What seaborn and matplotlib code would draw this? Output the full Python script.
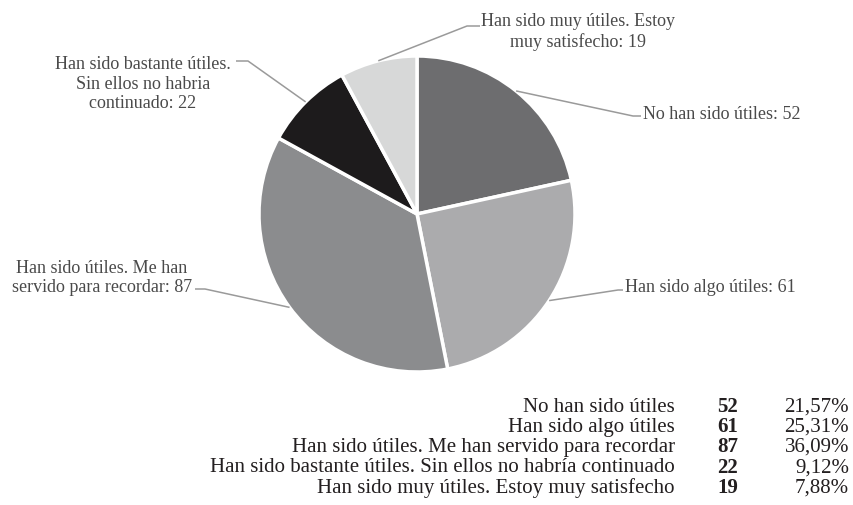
import numpy as np
import matplotlib
matplotlib.use("Agg")
import matplotlib.pyplot as plt
import seaborn as sns

# data
categorias = ["No han sido útiles", "Han sido algo útiles",
              "Han sido útiles. Me han servido para recordar",
              "Han sido bastante útiles. Sin ellos no habría continuado",
              "Han sido muy útiles. Estoy muy satisfecho"]
valores = [52, 61, 87, 22, 19]
porcentajes = ["21,57%", "25,31%", "36,09%", "9,12%", "7,88%"]
etiquetas = ["No han sido útiles: 52", "Han sido algo útiles: 61",
             "Han sido útiles. Me han\nservido para recordar: 87",
             "Han sido bastante útiles.\nSin ellos no habria\ncontinuado: 22",
             "Han sido muy útiles. Estoy\nmuy satisfecho: 19"]
colores = ["#6d6d6f", "#ababad", "#8b8c8e", "#1d1b1c", "#d7d8d8"]

sns.set_style("white")
plt.rcParams["font.family"] = ["Liberation Serif", "DejaVu Serif"]

W, H = 854, 506
fig = plt.figure(figsize=(W / 100, H / 100), dpi=100)
ax = fig.add_axes([0, 0, 1, 1])

def Y(y):
    return H - y

cx, cy, r = 417, 215, 158
wedges, _ = ax.pie(valores, colors=colores, startangle=90, counterclock=False,
                   center=(cx, Y(cy)), radius=r, frame=True,
                   wedgeprops=dict(edgecolor="white", linewidth=2.5))
ax.set_xlim(0, W)
ax.set_ylim(0, H)
ax.set_axis_off()

# label placement: (elbow x, elbow y, line end x, text x, text y, ha)
lugar = [
    (633, 117, 641, 643, 114, "left"),
    (618, 291, 623, 625, 288, "left"),
    (205, 290, 195, 102, 278, "center"),
    (248, 62, 236, 143, 84, "center"),
    (467, 27, 480, 578, 32, "center"),
]
gris_txt = "#4a4a4a"
for w, (ex, ey, lx, tx, ty, ha) in zip(wedges, lugar):
    ang = np.deg2rad((w.theta1 + w.theta2) / 2)
    sx = cx + r * np.cos(ang)
    sy = Y(cy) + r * np.sin(ang)
    ax.plot([sx, ex, lx], [sy, Y(ey), Y(ey)], color="#9a9a9a", lw=1.1,
            solid_capstyle="butt")
for et, (ex, ey, lx, tx, ty, ha) in zip(etiquetas, lugar):
    ax.text(tx, Y(ty), et, ha=ha, va="center", fontsize=13,
            color=gris_txt, linespacing=1.2, multialignment="center")

# table below the pie
fila0, paso = 407, 20.25
for i, (c, v, p) in enumerate(zip(categorias, valores, porcentajes)):
    y = Y(fila0 + i * paso)
    ax.text(675, y, c, ha="right", va="center", fontsize=15, color="#231f20")
    ax.text(717, y, str(v), ha="left", va="center", fontsize=15,
            fontweight="bold", color="#231f20")
    ax.text(849, y, p, ha="right", va="center", fontsize=15, color="#231f20")

fig.savefig("out.png", dpi=100)
